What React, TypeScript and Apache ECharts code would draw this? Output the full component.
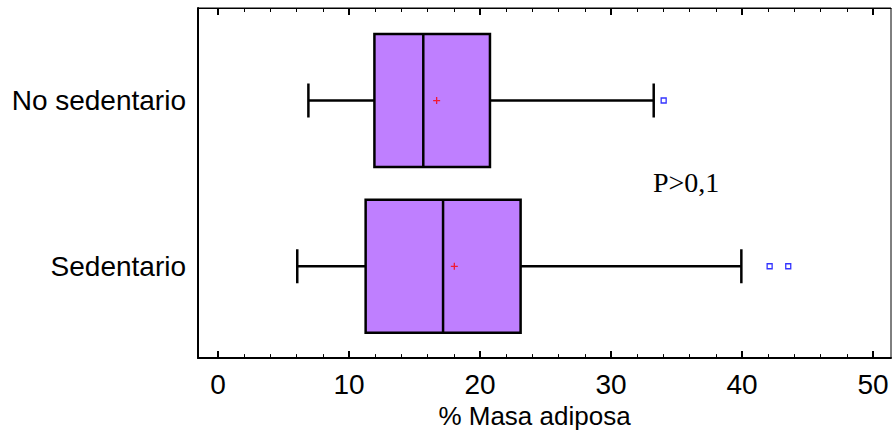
import React, { useEffect, useRef } from "react";
import * as echarts from "echarts";

const categories = ["Sedentario", "No sedentario"];
// [low whisker, Q1, median, Q3, high whisker]
const boxStats = [
  [6.05, 11.27, 17.18, 23.1, 39.95],
  [6.9, 11.94, 15.67, 20.76, 33.26],
];
const means = [18.04, 16.69];
const outliers = [
  [0, 42.11],
  [0, 43.53],
  [1, 34.02],
];
const majorTicks = [0, 10, 20, 30, 40, 50];
const minorTicks = [2, 4, 6, 8, 12, 14, 16, 18, 22, 24, 26, 28, 32, 34, 36, 38, 42, 44, 46, 48];
const xTitle = "% Masa adiposa";
const note = "P>0,1";

const FONT = 'Arial, "Liberation Sans", sans-serif';
const X_MIN = -1.527;
const X_MAX = 51.374;

export default function App() {
  const ref = useRef<HTMLDivElement>(null);
  useEffect(() => {
    if (!ref.current) return;
    const chart = echarts.init(ref.current, null, { renderer: "svg" });
    const boxData = boxStats.map((s, i) => [i, ...s]);
    const baseX = {
      type: "value",
      min: X_MIN,
      max: X_MAX,
      splitLine: { show: false },
      axisLabel: { show: false },
    };
    chart.setOption({
      animation: false,
      backgroundColor: "#fff",
      grid: {
        left: 198,
        right: 2,
        top: 8,
        bottom: 74,
        show: true,
        borderColor: "#000",
        borderWidth: 1,
        backgroundColor: "transparent",
      },
      xAxis: [
        {
          ...baseX,
          position: "bottom",
          axisLine: { show: true, onZero: false, lineStyle: { color: "#000", width: 2 } },
          axisTick: {
            show: true,
            inside: true,
            length: 7,
            customValues: majorTicks,
            lineStyle: { color: "#000", width: 2 },
          },
          axisLabel: {
            show: true,
            customValues: majorTicks,
            color: "#000",
            fontSize: 28,
            fontFamily: FONT,
            margin: 12,
          },
          name: xTitle,
          nameLocation: "middle",
          nameGap: 39,
          nameTextStyle: {
            color: "#000",
            fontSize: 26,
            fontFamily: FONT,
            padding: [0, 20, 0, 0],
          },
        },
        {
          ...baseX,
          position: "bottom",
          axisLine: { show: false, onZero: false },
          axisTick: {
            show: true,
            inside: true,
            length: 4,
            customValues: minorTicks,
            lineStyle: { color: "#000", width: 1 },
          },
        },
        {
          ...baseX,
          position: "top",
          axisLine: { show: true, onZero: false, lineStyle: { color: "#000", width: 1 } },
          axisTick: {
            show: true,
            inside: true,
            length: 7,
            customValues: majorTicks,
            lineStyle: { color: "#000", width: 2 },
          },
        },
        {
          ...baseX,
          position: "top",
          axisLine: { show: false, onZero: false },
          axisTick: {
            show: true,
            inside: true,
            length: 4,
            customValues: minorTicks,
            lineStyle: { color: "#000", width: 1 },
          },
        },
      ],
      yAxis: {
        type: "value",
        min: -0.554,
        max: 1.558,
        position: "left",
        splitLine: { show: false },
        axisLine: { show: true, onZero: false, lineStyle: { color: "#000", width: 2 } },
        axisTick: { show: false },
        axisLabel: {
          show: true,
          customValues: [0, 1],
          formatter: (v: number) => categories[Math.round(v)] ?? "",
          color: "#000",
          fontSize: 28,
          fontFamily: FONT,
          margin: 12,
        },
      },
      series: [
        {
          type: "custom",
          xAxisIndex: 0,
          data: boxData,
          encode: { x: [1, 2, 3, 4, 5], y: 0 },
          renderItem: (params: any, api: any) => {
            const c = api.value(0);
            const lo = api.coord([api.value(1), c]);
            const q1 = api.coord([api.value(2), c]);
            const md = api.coord([api.value(3), c]);
            const q3 = api.coord([api.value(4), c]);
            const hi = api.coord([api.value(5), c]);
            const half = 66.5;
            const cap = 17;
            const y = lo[1];
            const line = { stroke: "#000", lineWidth: 2.5 };
            return {
              type: "group",
              children: [
                { type: "line", shape: { x1: lo[0], y1: y, x2: q1[0], y2: y }, style: line },
                { type: "line", shape: { x1: q3[0], y1: y, x2: hi[0], y2: y }, style: line },
                { type: "line", shape: { x1: lo[0], y1: y - cap, x2: lo[0], y2: y + cap }, style: line },
                { type: "line", shape: { x1: hi[0], y1: y - cap, x2: hi[0], y2: y + cap }, style: line },
                {
                  type: "rect",
                  shape: { x: q1[0], y: y - half, width: q3[0] - q1[0], height: 2 * half },
                  style: { fill: "#BF7FFF", stroke: "#000", lineWidth: 2.5 },
                },
                { type: "line", shape: { x1: md[0], y1: y - half, x2: md[0], y2: y + half }, style: line },
              ],
            };
          },
          z: 2,
        },
        {
          type: "scatter",
          xAxisIndex: 0,
          data: means.map((m, i) => [m, i]),
          symbol: "path://M0,3h7v1.3h-7z M2.85,0h1.3v7h-1.3z",
          symbolSize: 7,
          itemStyle: { color: "#ff0000" },
          z: 5,
        },
        {
          type: "scatter",
          xAxisIndex: 0,
          data: outliers.map((o) => [o[1], o[0]]),
          symbol: "rect",
          symbolSize: 5,
          itemStyle: { color: "#ffffff", borderColor: "#0000ff", borderWidth: 1.3 },
          z: 5,
        },
      ],
      graphic: [
        {
          type: "text",
          left: 653,
          top: 168,
          style: {
            text: note,
            fill: "#000",
            fontSize: 28,
            fontFamily: '"Times New Roman", "Liberation Serif", serif',
          },
        },
      ],
    });
    return () => chart.dispose();
  }, []);
  return <div ref={ref} style={{ width: 893, height: 434, position: "absolute", left: 0, top: 0 }} />;
}
